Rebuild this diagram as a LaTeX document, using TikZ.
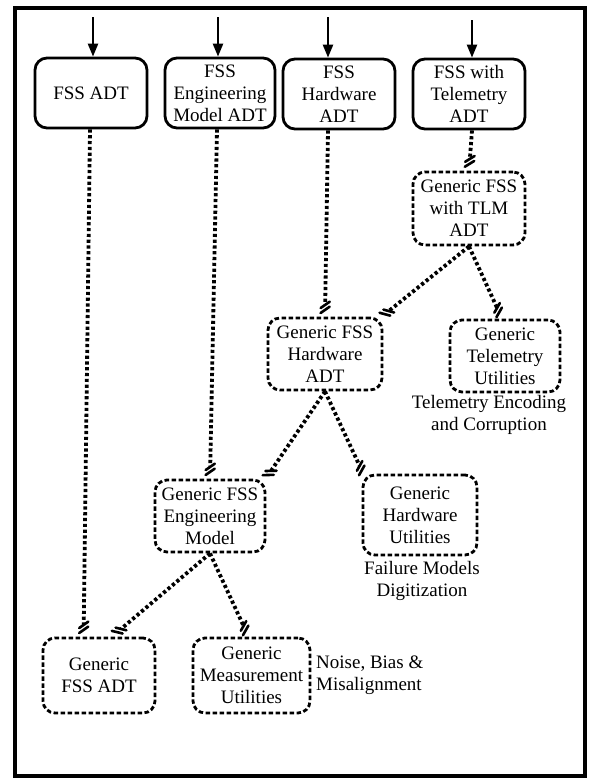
\documentclass[tikz,border=0pt]{standalone}
\usepackage{fontspec}
\setmainfont{Liberation Serif}
\usetikzlibrary{arrows.meta,decorations.markings,calc}

\tikzset{
  every node/.style={font=\fontsize{19}{22}\selectfont, align=center, inner sep=0pt},
  adtbox/.style={draw, line width=2.8pt, rounded corners=12pt,
    minimum width=112pt, minimum height=70pt},
  genbox/.style={draw, line width=2.8pt, dash pattern=on 4.5pt off 2.5pt,
    rounded corners=12pt, minimum width=112pt, minimum height=73pt},
  feed/.style={line width=2.4pt, -{Triangle[length=13pt,width=10pt]}},
  uses/.style={line width=3.8pt, dash pattern=on 3.2pt off 2.6pt,
    shorten >=12pt,
    postaction={decorate},
    decoration={markings, mark=at position -12pt with {
      \draw[solid, shorten >=0pt, line width=2.6pt, line cap=round]
        (3.5pt,-4.5pt) -- (-3pt,4.5pt)
        (8.5pt,-4.5pt) -- (2pt,4.5pt);}}},
  note/.style={align=center}
}

\begin{document}
\begin{tikzpicture}[x=1pt, y=-1pt]
  \useasboundingbox (0,0) rectangle (590,780);
  % outer frame
  \draw[line width=4pt] (15,8) rectangle (585,776);

  % top-level ADTs
  \node[adtbox] (fa) at (91,93)  {FSS ADT};
  \node[adtbox, minimum width=110pt] (fe) at (220,93) {FSS\\Engineering\\Model ADT};
  \node[adtbox] (fh) at (339,94) {FSS\\Hardware\\ADT};
  \node[adtbox] (ft) at (469,94) {FSS with\\Telemetry\\ADT};

  % incoming arrows
  \coordinate (a1) at (93,17);
  \coordinate (a2) at (218,17);
  \coordinate (a3) at (328,17);
  \coordinate (a4) at (472,20);
  \draw[feed] (a1) -- ([xshift=2pt]fa.north);
  \draw[feed] (a2) -- ([xshift=-2pt]fe.north);
  \draw[feed] (a3) -- ([xshift=-11pt]fh.north);
  \draw[feed] (a4) -- ([xshift=3pt]ft.north);

  % generic components
  \node[genbox] (tlm) at (469,208.5) {Generic FSS\\with TLM\\ADT};
  \node[genbox, minimum width=114pt, minimum height=72pt] (hw) at (325,354) {Generic FSS\\Hardware\\ADT};
  \node[genbox, minimum width=110pt, minimum height=72pt] (tu) at (505,356) {Generic\\Telemetry\\Utilities};
  \node[genbox, minimum width=110pt, minimum height=72pt] (em) at (210,516) {Generic FSS\\Engineering\\Model};
  \node[genbox, minimum width=114pt, minimum height=80pt] (hu) at (420,515) {Generic\\Hardware\\Utilities};
  \node[genbox, minimum height=75pt] (gfa) at (99,675.5) {Generic\\FSS ADT};
  \node[genbox, minimum width=117pt, minimum height=75pt] (gmu) at (251.5,675.5) {Generic\\Measurement\\Utilities};

  % annotations
  \node[note] (tenc) at (489,415) {Telemetry Encoding\\and Corruption};
  \node[note] (fmod) at (422,581) {Failure Models\\Digitization};
  \node[note, anchor=west, align=left] (nba) at (316,675) {Noise, Bias \&\\Misalignment};

  % uses relations
  \draw[uses] ([xshift=-1pt]fa.south) -- ([xshift=42pt]gfa.north west);
  \draw[uses] ([xshift=-3pt]fe.south) -- (em.north);
  \draw[uses] ([xshift=-11pt]fh.south) -- (hw.north);
  \draw[uses] ([xshift=3pt]ft.south) -- (tlm.north);
  \draw[uses] (tlm.south) -- ([xshift=-4pt,yshift=-2pt]hw.north east);
  \draw[uses] (tlm.south) -- ([xshift=-3pt]tu.north);
  \draw[uses] (hw.south) -- ([xshift=-2pt,yshift=-2pt]em.north east);
  \draw[uses] (hw.south) -- ([xshift=3pt,yshift=-3pt]hu.north west);
  \draw[uses] (em.south) -- ([xshift=13pt]gfa.north);
  \draw[uses] (em.south) -- ([xshift=-3pt]gmu.north);
\end{tikzpicture}
\end{document}
